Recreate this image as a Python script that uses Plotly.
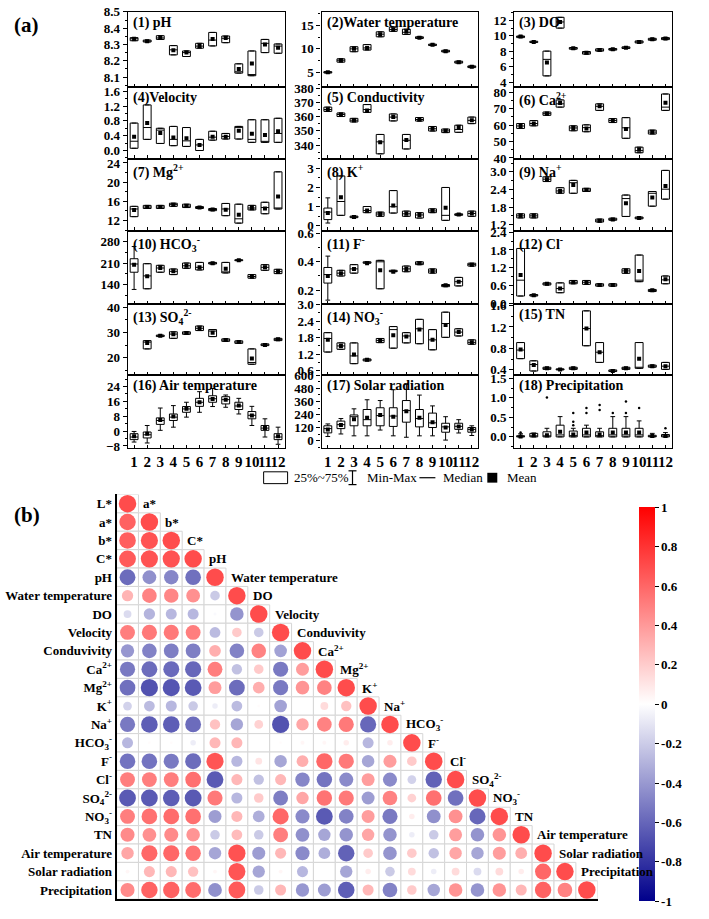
import plotly.graph_objects as go
import math

W, H = 709, 919
MONTHS = list(range(1, 13))

# ---------------- Panel (a) data: q1, median, q3, mean (+ whisker min/max) ----------------
PH_Q1 = [8.323, 8.315, 8.331, 8.236, 8.226, 8.277, 8.291, 8.311, 8.124, 8.108, 8.250, 8.246]
PH_MED = [8.335, 8.320, 8.340, 8.267, 8.250, 8.290, 8.327, 8.338, 8.132, 8.115, 8.307, 8.290]
PH_Q3 = [8.342, 8.327, 8.354, 8.293, 8.260, 8.307, 8.374, 8.352, 8.181, 8.260, 8.331, 8.303]
PH_MEAN = [8.335, 8.320, 8.340, 8.265, 8.250, 8.290, 8.333, 8.340, 8.149, 8.183, 8.300, 8.280]

WT_Q1 = [4.9, 7.2, 9.4, 9.75, 12.55, 13.7, 13.05, 12.2, 10.7, 9.35, 7.0, 6.05]
WT_MED = [5.05, 7.6, 10.0, 10.2, 13.1, 14.1, 13.5, 12.35, 10.85, 9.5, 7.2, 6.25]
WT_Q3 = [5.2, 7.9, 10.45, 10.9, 13.6, 14.6, 14.15, 12.55, 11.0, 9.7, 7.4, 6.4]
WT_MEAN = [5.05, 7.6, 10.0, 10.2, 13.1, 14.1, 13.6, 12.35, 10.85, 9.5, 7.2, 6.25]

DO_Q1 = [9.77, 9.13, 4.81, 11.0, 8.27, 7.63, 8.02, 8.15, 8.36, 9.08, 9.43, 9.51]
DO_MED = [9.9, 9.2, 6.95, 11.8, 8.4, 7.8, 8.15, 8.25, 8.45, 9.2, 9.55, 9.65]
DO_Q3 = [9.98, 9.30, 8.02, 12.4, 8.49, 7.97, 8.32, 8.36, 8.57, 9.34, 9.68, 9.77]
DO_MEAN = [9.9, 9.2, 6.56, 11.8, 8.4, 7.8, 8.15, 8.25, 8.45, 9.2, 9.55, 9.65]

VEL_Q1 = [0.06, 0.30, 0.19, 0.13, 0.11, 0.00, 0.28, 0.31, 0.31, 0.22, 0.22, 0.22]
VEL_MED = [0.25, 0.62, 0.55, 0.30, 0.26, 0.15, 0.36, 0.38, 0.63, 0.30, 0.24, 0.46]
VEL_Q3 = [0.74, 1.23, 0.60, 0.65, 0.62, 0.30, 0.52, 0.46, 0.65, 0.83, 0.83, 0.87]
VEL_MEAN = [0.37, 0.74, 0.47, 0.35, 0.33, 0.15, 0.37, 0.37, 0.53, 0.45, 0.42, 0.52]

CON_Q1 = [363.7, 360.1, 356.3, 363.0, 333.9, 357.0, 337.3, 356.9, 349.9, 348.8, 349.0, 355.1]
CON_MED = [365.0, 361.5, 357.5, 365.0, 342.3, 359.7, 343.4, 358.0, 351.5, 350.0, 351.0, 357.4]
CON_Q3 = [366.7, 362.6, 358.8, 368.5, 347.5, 361.9, 347.5, 359.4, 353.1, 351.3, 354.0, 359.7]
CON_MEAN = [365.0, 361.5, 357.5, 364.4, 342.0, 359.7, 343.6, 358.0, 351.5, 350.0, 352.5, 357.4]

CA_Q1 = [58.0, 59.6, 66.0, 71.0, 56.6, 56.0, 69.0, 61.6, 52.0, 43.2, 54.6, 69.0]
CA_MED = [59.5, 61.0, 67.0, 73.0, 58.3, 58.5, 71.5, 62.8, 58.4, 44.5, 55.8, 71.0]
CA_Q3 = [61.0, 62.8, 68.0, 75.4, 59.6, 60.2, 73.0, 64.0, 64.6, 46.6, 57.0, 79.0]
CA_MEAN = [59.5, 61.0, 67.0, 73.5, 58.3, 58.0, 71.5, 62.8, 57.6, 45.0, 55.8, 73.6]

MG_Q1 = [12.8, 14.5, 14.5, 14.95, 14.7, 14.5, 14.05, 13.0, 11.45, 14.2, 13.4, 14.4]
MG_MED = [14.4, 14.8, 14.8, 15.3, 15.0, 14.7, 14.3, 14.4, 12.35, 14.6, 14.7, 14.5]
MG_Q3 = [14.95, 15.15, 15.15, 15.6, 15.4, 14.9, 14.5, 15.55, 15.4, 15.15, 15.8, 22.15]
MG_MEAN = [14.2, 14.8, 14.8, 15.3, 15.0, 14.7, 14.3, 14.26, 13.2, 14.6, 14.5, 17.0]

K_Q1 = [0.33, 0.55, 0.43, 0.69, 0.50, 0.67, 0.50, 0.41, 0.69, 0.29, 0.55, 0.50]
K_MED = [0.72, 1.27, 0.47, 0.80, 0.62, 1.00, 0.63, 0.57, 0.78, 0.55, 0.60, 0.65]
K_Q3 = [0.93, 2.60, 0.51, 1.01, 0.72, 1.84, 0.77, 0.69, 0.89, 2.00, 0.63, 0.77]
K_MEAN = [0.67, 1.49, 0.47, 0.80, 0.62, 1.06, 0.63, 0.57, 0.78, 0.94, 0.60, 0.65]
K_MIN = [0.15, None, None, None, None, None, None, None, None, None, None, None]
K_MAX = [1.46, None, None, None, None, None, None, None, None, None, None, None]

NA_Q1 = [1.43, 1.43, 2.67, 2.27, 2.27, 2.33, 1.29, 1.35, 1.48, 1.40, 1.83, 2.07]
NA_MED = [1.50, 1.50, 2.75, 2.35, 2.63, 2.38, 1.33, 1.38, 2.09, 1.43, 2.27, 2.41]
NA_Q3 = [1.57, 1.57, 2.83, 2.46, 2.71, 2.44, 1.39, 1.42, 2.21, 1.46, 2.33, 3.05]
NA_MEAN = [1.50, 1.50, 2.75, 2.35, 2.55, 2.38, 1.33, 1.38, 1.93, 1.43, 2.13, 2.52]

HC_Q1 = [180, 126, 180, 172.3, 192.8, 187.4, 206.8, 177.7, 217.5, 160.5, 186.3, 175.5]
HC_MED = [206.8, 168, 193.8, 183, 201, 196, 209.5, 181, 219, 166, 196, 182]
HC_Q3 = [224, 207.8, 202.5, 190.6, 210, 212, 212, 212, 220.8, 172.3, 204.6, 189.5]
HC_MEAN = [204.6, 167, 193.8, 183, 201, 196, 209.5, 191.7, 219, 166, 196, 182]
HC_MIN = [123.8, None, None, None, None, None, None, None, None, None, None, None]
HC_MAX = [263.8, None, None, None, None, None, None, None, None, None, None, None]

F_Q1 = [0.25, 0.30, 0.32, 0.39, 0.21, 0.33, 0.33, 0.38, 0.32, 0.225, 0.23, 0.37]
F_MED = [0.31, 0.32, 0.35, 0.39, 0.40, 0.33, 0.35, 0.39, 0.335, 0.235, 0.26, 0.38]
F_Q3 = [0.36, 0.34, 0.38, 0.40, 0.41, 0.34, 0.37, 0.40, 0.35, 0.24, 0.29, 0.39]
F_MEAN = [0.30, 0.32, 0.35, 0.39, 0.34, 0.33, 0.35, 0.39, 0.335, 0.235, 0.26, 0.38]
F_MIN = [0.13, None, None, None, None, None, None, None, None, None, None, None]
F_MAX = [0.44, None, None, None, None, None, None, None, None, None, None, None]

CL_Q1 = [0.26, 0.26, 0.63, 0.37, 0.67, 0.65, 0.59, 0.59, 1.02, 0.74, 0.41, 0.67]
CL_MED = [0.79, 0.29, 0.67, 0.51, 0.72, 0.72, 0.63, 0.63, 1.10, 0.79, 0.45, 0.80]
CL_Q3 = [1.85, 0.31, 0.70, 0.70, 0.78, 0.78, 0.67, 0.67, 1.17, 1.63, 0.48, 0.93]
CL_MEAN = [0.96, 0.29, 0.67, 0.51, 0.72, 0.72, 0.63, 0.63, 1.10, 1.10, 0.45, 0.82]

SO_Q1 = [None, 23.5, 28.4, 27.7, 29.3, 30.8, 28.4, 26.5, 25.7, 17.4, 24.8, 26.8]
SO_MED = [None, 26.2, 28.7, 29.4, 29.8, 31.7, 30.6, 27.0, 26.2, 18.1, 25.1, 27.3]
SO_Q3 = [None, 26.8, 29.0, 30.3, 30.3, 32.6, 31.2, 27.5, 26.7, 23.5, 25.5, 27.7]
SO_MEAN = [None, 25.8, 28.7, 29.3, 29.8, 31.7, 29.9, 27.0, 26.2, 19.7, 25.1, 27.3]

NO_Q1 = [1.28, 1.38, 0.86, 0.96, 1.62, 1.42, 1.61, 1.58, 1.36, 1.81, 1.86, 1.56]
NO_MED = [1.77, 1.50, 1.14, 1.00, 1.70, 2.09, 1.86, 2.12, 1.72, 2.31, 2.00, 1.63]
NO_Q3 = [1.98, 1.61, 1.61, 1.03, 1.77, 2.20, 1.98, 2.46, 2.09, 2.72, 2.12, 1.72]
NO_MEAN = [1.72, 1.50, 1.19, 1.00, 1.70, 1.89, 1.84, 2.09, 1.72, 2.26, 2.00, 1.63]

TN_Q1 = [0.61, 0.38, 0.41, 0.40, 0.41, 0.85, 0.54, 0.37, 0.41, 0.43, 0.45, 0.41]
TN_MED = [0.77, 0.50, 0.43, 0.41, 0.43, 1.17, 0.73, 0.38, 0.43, 0.45, 0.47, 0.47]
TN_Q3 = [0.91, 0.57, 0.45, 0.42, 0.45, 1.50, 0.91, 0.40, 0.45, 0.91, 0.49, 0.54]
TN_MEAN = [0.78, 0.49, 0.43, 0.41, 0.43, 1.17, 0.73, 0.38, 0.43, 0.61, 0.47, 0.47]

AT_MIN = [-5.9, -6.4, 0.4, 2.1, 7.5, 10.1, 13.2, 12.8, 9.2, 3.0, -3.2, -7.1]
AT_Q1 = [-4.6, -3.7, 3.6, 5.7, 10.1, 13.3, 15.5, 14.6, 11.6, 6.6, 0.4, -4.6]
AT_MED = [-3.2, -2.0, 5.7, 7.5, 11.9, 15.5, 17.4, 16.9, 13.5, 8.5, 1.6, -3.2]
AT_Q3 = [-1.4, -0.5, 7.1, 9.2, 13.2, 17.6, 19.0, 18.5, 15.5, 10.5, 3.0, -1.4]
AT_MAX = [-0.2, 3.0, 12.4, 13.7, 15.5, 21.2, 22.9, 19.4, 17.6, 13.3, 6.6, 2.1]
AT_MEAN = [-2.8, -1.4, 6.0, 7.8, 12.0, 15.5, 17.2, 16.9, 13.7, 8.4, 1.6, -2.8]

SR_MIN = [40, 63, 46, 46, 99, 46, 33, 46, 46, 7, 72, 49]
SR_Q1 = [73, 112, 138, 138, 138, 132, 171, 128, 122, 79, 105, 79]
SR_MED = [112, 148, 221, 194, 231, 227, 277, 204, 165, 128, 133, 105]
SR_Q3 = [138, 181, 237, 287, 303, 303, 369, 287, 254, 161, 161, 122]
SR_MAX = [155, 204, 293, 376, 369, 468, 517, 419, 320, 221, 194, 138]
SR_MEAN = [105, 145, 198, 211, 237, 221, 270, 211, 171, 122, 132, 105]

PR_MIN = [0, 0, 0, 0, 0, 0, 0, 0, 0, 0, 0, 0]
PR_Q1 = [0, 0, 0, 0, 0, 0, 0, 0, 0, 0, 0, 0]
PR_MED = [0.0, 0.02, 0.02, 0.05, 0.03, 0.05, 0.03, 0.05, 0.05, 0.05, 0.0, 0.0]
PR_Q3 = [0.03, 0.09, 0.13, 0.30, 0.15, 0.22, 0.13, 0.22, 0.22, 0.22, 0.04, 0.06]
PR_MAX = [0.08, 0.10, 0.22, 0.52, 0.22, 0.30, 0.22, 0.52, 0.52, 0.41, 0.09, 0.11]
PR_MEAN = [0.01, 0.04, 0.04, 0.13, 0.06, 0.11, 0.06, 0.11, 0.11, 0.11, 0.02, 0.02]
PR_OUT_X = [1, 3, 5, 5, 5, 6, 6, 7, 7, 8, 9, 9, 10, 12]
PR_OUT_Y = [0.11, 1.01, 0.61, 0.39, 0.30, 0.74, 0.61, 0.82, 0.69, 0.61, 0.91, 0.61, 0.74, 0.22]

LEGEND_LABELS = ["25%~75%", "Min-Max", "Median", "Mean"]

# ---------------- Panel (b) data: correlation matrix (lower triangle rows) ----------------
VARS = ["L*", "a*", "b*", "C*", "pH", "Water temperature", "DO", "Velocity", "Conduvivity",
        "Ca<sup>2+</sup>", "Mg<sup>2+</sup>", "K<sup>+</sup>", "Na<sup>+</sup>",
        "HCO<sub>3</sub><sup>-</sup>", "F<sup>-</sup>", "Cl<sup>-</sup>",
        "SO<sub>4</sub><sup>2-</sup>", "NO<sub>3</sub><sup>-</sup>", "TN",
        "Air temperature", "Solar radiation", "Precipitation"]
R01 = [1]
R02 = [0.88, 1]
R03 = [0.90, 0.96, 1]
R04 = [0.92, 0.96, 0.97, 1]
R05 = [-0.82, -0.62, -0.68, -0.80, 1]
R06 = [0.42, 0.70, 0.68, 0.62, -0.30, 1]
R07 = [-0.20, -0.42, -0.40, -0.40, -0.03, -0.60, 1]
R08 = [0.72, 0.75, 0.75, 0.72, -0.38, 0.30, -0.30, 1]
R09 = [-0.58, -0.70, -0.72, -0.72, 0.45, -0.70, 0.70, -0.52, 1]
R10 = [-0.75, -0.82, -0.83, -0.85, 0.72, -0.35, 0.30, -0.75, 0.55, 1]
R11 = [-0.80, -0.97, -0.95, -0.92, 0.55, -0.82, 0.45, -0.75, 0.60, 0.70, 1]
R12 = [-0.25, -0.38, -0.40, -0.30, -0.10, -0.38, 0.02, -0.52, 0.00, 0.20, 0.35, 1]
R13 = [-0.75, -0.90, -0.90, -0.82, 0.35, -0.50, 0.25, -0.97, 0.50, 0.70, 0.75, -0.85, 1]
R14 = [-0.40, 0.02, 0.02, -0.10, 0.40, 0.40, 0.00, 0.02, 0.05, 0.05, 0.10, -0.40, 0.10, 1]
R15 = [-0.78, -0.78, -0.75, -0.82, 0.95, -0.40, 0.15, -0.50, 0.45, 0.85, 0.75, -0.50, 0.55, 0.30, 1]
R16 = [0.72, 0.72, 0.72, 0.80, -0.92, 0.40, -0.35, 0.40, -0.68, -0.78, -0.65, 0.55, -0.65, -0.25, -0.88, 1]
R17 = [-0.92, -0.92, -0.90, -0.93, 0.75, -0.40, 0.30, -0.72, 0.50, 0.78, 0.75, -0.55, 0.70, 0.25, 0.80, -0.80, 1]
R18 = [0.72, 0.80, 0.82, 0.80, -0.55, 0.40, -0.45, 0.85, -0.65, -0.92, -0.70, 0.55, -0.75, 0.10, -0.62, 0.62, -0.85, 1]
R19 = [0.65, 0.62, 0.65, 0.60, -0.30, 0.38, -0.30, 0.72, -0.62, -0.50, -0.60, 0.50, -0.60, -0.10, -0.30, 0.55, -0.60, 0.60, 1]
R20 = [0.50, 0.85, 0.85, 0.78, -0.50, 0.97, -0.55, 0.40, -0.65, -0.45, -0.88, 0.30, -0.60, 0.30, -0.35, 0.50, -0.50, 0.55, 0.45, 1]
R21 = [0.05, 0.40, 0.40, 0.35, 0.05, 0.95, -0.50, 0.05, -0.40, 0.00, -0.50, 0.10, -0.30, 0.20, -0.10, 0.20, -0.20, 0.20, 0.10, 0.85, 1]
R22 = [0.65, 0.88, 0.88, 0.82, -0.62, 0.92, -0.30, 0.40, -0.58, -0.55, -0.90, 0.40, -0.70, 0.30, -0.50, 0.60, -0.60, 0.60, 0.40, 0.88, 0.70, 1]
CORR_ROWS = [R01, R02, R03, R04, R05, R06, R07, R08, R09, R10, R11, R12, R13, R14, R15,
             R16, R17, R18, R19, R20, R21, R22]

CB_TICKS = [1, 0.8, 0.6, 0.4, 0.2, 0, -0.2, -0.4, -0.6, -0.8, -1]

# ---------------- layout helpers ----------------
SERIF = "Liberation Serif"
COL_X = [(128, 285), (322, 479), (515, 673)]
ROW_Y = [(5, 81), (81, 154), (154, 227), (227, 302), (302, 374), (374, 448)]


def dx(a, b):
    return [a / W, b / W]


def dy(a, b):
    return [1 - b / H, 1 - a / H]


def px(x):
    return x / W


def py(y):
    return 1 - y / H


PANELS = [
    ("(1) pH", PH_Q1, PH_MED, PH_Q3, PH_MEAN, None, None, [8.04, 8.5], 0.1, 0.0, ".1f"),
    ("(2)Water temperature", WT_Q1, WT_MED, WT_Q3, WT_MEAN, None, None, [2, 17.8], 5, 0, "d"),
    ("(3) DO", DO_Q1, DO_MED, DO_Q3, DO_MEAN, None, None, [3.4, 13.1], 2, 0, "d"),
    ("(4)Velocity", VEL_Q1, VEL_MED, VEL_Q3, VEL_MEAN, None, None, [-0.22, 1.72], 0.4, 0, ".1f"),
    ("(5) Conductivity", CON_Q1, CON_MED, CON_Q3, CON_MEAN, None, None, [330.5, 381], 10, 0, "d"),
    ("(6) Ca<sup>2+</sup>", CA_Q1, CA_MED, CA_Q3, CA_MEAN, None, None, [39.6, 83.4], 10, 0, "d"),
    ("(7) Mg<sup>2+</sup>", MG_Q1, MG_MED, MG_Q3, MG_MEAN, None, None, [9.9, 24.9], 4, 0, "d"),
    ("(8) K<sup>+</sup>", K_Q1, K_MED, K_Q3, K_MEAN, K_MIN, K_MAX, [-0.24, 3.5], 1, 0, "d"),
    ("(9) Na<sup>+</sup>", NA_Q1, NA_MED, NA_Q3, NA_MEAN, None, None, [1.0, 3.45], 0.6, 0, ".1f"),
    ("(10) HCO<sub>3</sub><sup>-</sup>", HC_Q1, HC_MED, HC_Q3, HC_MEAN, HC_MIN, HC_MAX, [75, 316], 70, 0, "d"),
    ("(11) F<sup>-</sup>", F_Q1, F_MED, F_Q3, F_MEAN, F_MIN, F_MAX, [0.1, 0.62], 0.2, 0, ".1f"),
    ("(12) Cl<sup>-</sup>", CL_Q1, CL_MED, CL_Q3, CL_MEAN, None, None, [-0.02, 2.45], 0.6, 0, ".1f"),
    ("(13) SO<sub>4</sub><sup>2-</sup>", SO_Q1, SO_MED, SO_Q3, SO_MEAN, None, None, [13, 41.2], 10, 0, "d"),
    ("(14) NO<sub>3</sub><sup>-</sup>", NO_Q1, NO_MED, NO_Q3, NO_MEAN, None, None, [0.44, 3.0], 0.6, 0, ".1f"),
    ("(15) TN", TN_Q1, TN_MED, TN_Q3, TN_MEAN, None, None, [0.3, 1.62], 0.4, 0, ".1f"),
    ("(16) Air temperature", AT_Q1, AT_MED, AT_Q3, AT_MEAN, AT_MIN, AT_MAX, [-9.2, 30], 8, 0, "d"),
    ("(17) Solar radiation", SR_Q1, SR_MED, SR_Q3, SR_MEAN, SR_MIN, SR_MAX, [-67, 600], 120, 0, "d"),
    ("(18) Precipitation", PR_Q1, PR_MED, PR_Q3, PR_MEAN, PR_MIN, PR_MAX, [-0.29, 1.58], 0.5, 0, ".1f"),
]

fig = go.Figure()
layout = {}
annotations = []
shapes = []
tickfont = dict(family=SERIF, size=13, color="black", weight="bold")

for idx, (title, q1, med, q3, mean, lo, hi, yr, dt, t0, fmt) in enumerate(PANELS):
    k = idx + 1
    r, c = divmod(idx, 3)
    xa, ya = f"x{k}", f"y{k}"
    keep = [i for i in range(12) if q1[i] is not None]
    xs = [MONTHS[i] for i in keep]
    lof = [(lo[i] if (lo and lo[i] is not None) else q1[i]) for i in keep]
    hif = [(hi[i] if (hi and hi[i] is not None) else q3[i]) for i in keep]
    fig.add_trace(go.Box(
        x=xs, q1=[q1[i] for i in keep], median=[med[i] for i in keep], q3=[q3[i] for i in keep],
        lowerfence=lof, upperfence=hif, width=0.6, whiskerwidth=0.6,
        fillcolor="white", line=dict(color="black", width=1), boxpoints=False,
        xaxis=xa, yaxis=ya, showlegend=False, hoverinfo="skip"))
    fig.add_trace(go.Scatter(
        x=xs, y=[mean[i] for i in keep], mode="markers",
        marker=dict(symbol="square", size=4, color="black"),
        xaxis=xa, yaxis=ya, showlegend=False, hoverinfo="skip"))
    if k == 18:
        fig.add_trace(go.Scatter(
            x=PR_OUT_X, y=PR_OUT_Y, mode="markers",
            marker=dict(symbol="circle", size=2.5, color="black"),
            xaxis=xa, yaxis=ya, showlegend=False, hoverinfo="skip"))
    x0, x1 = COL_X[c]
    y0, y1 = ROW_Y[r]
    xkey = "xaxis" if k == 1 else f"xaxis{k}"
    ykey = "yaxis" if k == 1 else f"yaxis{k}"
    layout[xkey] = dict(
        domain=dx(x0, x1), anchor=ya, range=[0.52, 12.5], tickmode="array", tickvals=MONTHS,
        ticktext=[str(m) for m in MONTHS], showticklabels=(r == 5), ticks="inside", ticklen=3,
        tickangle=0, tickwidth=1, tickcolor="black", showline=True, mirror=True,
        linecolor="black", linewidth=1.4, showgrid=False, zeroline=False,
        tickfont=dict(family=SERIF, size=15, color="black", weight="bold"))
    layout[ykey] = dict(
        domain=dy(y0, y1), anchor=xa, range=yr, dtick=dt, tick0=t0, tickformat=fmt,
        ticks="outside", ticklen=4, tickwidth=1, tickcolor="black",
        minor=dict(dtick=dt / 2, tick0=t0, ticks="outside", ticklen=2, tickcolor="black"),
        showline=True, mirror=True, linecolor="black", linewidth=1.4, showgrid=False,
        zeroline=False, tickfont=tickfont)
    annotations.append(dict(
        xref="paper", yref="paper", x=(x0 + 3) / W, y=1 - (y0 + 1) / H, xanchor="left",
        yanchor="top", text=f"<b>{title}</b>", showarrow=False,
        font=dict(family=SERIF, size=14, color="black")))

# ---------------- key of panel (a) ----------------
LY = 478
legfont = dict(family=SERIF, size=13, color="black")
shapes.append(dict(type="rect", xref="paper", yref="paper", x0=px(264), x1=px(288),
                   y0=py(484), y1=py(472), line=dict(color="black", width=1), fillcolor="white"))
shapes.append(dict(type="line", xref="paper", yref="paper", x0=px(353), x1=px(353),
                   y0=py(485), y1=py(471), line=dict(color="black", width=1.2)))
for yy in (471, 485):
    shapes.append(dict(type="line", xref="paper", yref="paper", x0=px(349), x1=px(357),
                       y0=py(yy), y1=py(yy), line=dict(color="black", width=1.2)))
shapes.append(dict(type="line", xref="paper", yref="paper", x0=px(420), x1=px(436),
                   y0=py(LY), y1=py(LY), line=dict(color="black", width=1.2)))
shapes.append(dict(type="rect", xref="paper", yref="paper", x0=px(488), x1=px(498),
                   y0=py(483), y1=py(473), line=dict(color="black", width=0), fillcolor="black"))
for lx, lab in zip([292, 366, 442, 506], LEGEND_LABELS):
    annotations.append(dict(xref="paper", yref="paper", x=px(lx), y=py(LY), xanchor="left",
                            yanchor="middle", text=lab, showarrow=False, font=legfont))

# ---------------- Panel (b): correlation circles ----------------
N = len(VARS)
cx, cy, cr = [], [], []
for i, row in enumerate(CORR_ROWS):
    for j, v in enumerate(row):
        cx.append(j + 1)
        cy.append(i + 1)
        cr.append(v)

BX0, BX1 = 116.75, 598.6
BY0, BY1 = 495.0, 906.0
for i in range(N):
    for j in range(i + 1):
        shapes.append(dict(type="rect", xref="x19", yref="y19", x0=j + 0.5, x1=j + 1.5,
                           y0=i + 0.5, y1=i + 1.5, line=dict(color="#d6d6d6", width=1),
                           fillcolor="white", layer="below"))

colorscale = [[0.0, "#00008B"], [0.5, "#FFFFFF"], [1.0, "#FF0000"]]
fig.add_trace(go.Scatter(
    x=cx, y=cy, mode="markers", xaxis="x19", yaxis="y19", showlegend=False, hoverinfo="skip",
    marker=dict(size=[17.5 * math.sqrt(abs(v)) for v in cr], color=cr, colorscale=colorscale,
                cmin=-1, cmax=1, line=dict(width=0),
                colorbar=dict(x=640 / W, xanchor="left", y=1 - 708 / H, yanchor="middle",
                              len=394, lenmode="pixels", thickness=16, thicknessmode="pixels",
                              ypad=0, xpad=0,
                              tickvals=CB_TICKS, ticktext=[f"{t:g}" for t in CB_TICKS],
                              ticks="outside", ticklen=4, tickcolor="black", outlinewidth=0,
                              tickfont=dict(family=SERIF, size=13, color="black", weight="bold")))))

for i in range(N - 1):
    annotations.append(dict(xref="x19", yref="y19", x=i + 1.5, y=i + 1, xanchor="left",
                            yanchor="middle", xshift=3, text=f"<b>{VARS[i + 1]}</b>",
                            showarrow=False, font=dict(family=SERIF, size=13, color="black")))

layout["xaxis19"] = dict(domain=dx(BX0, BX1), anchor="y19", range=[0.5, N + 0.5],
                         showticklabels=False, ticks="", showgrid=False, zeroline=False,
                         showline=True, linecolor="black", linewidth=2)
layout["yaxis19"] = dict(domain=dy(BY0, BY1), anchor="x19", range=[N + 0.5, 0.5],
                         tickmode="array", tickvals=list(range(1, N + 1)),
                         ticktext=[f"<b>{v}</b>" for v in VARS], ticks="", showgrid=False,
                         zeroline=False, showline=True, linecolor="black", linewidth=2,
                         tickfont=dict(family=SERIF, size=13, color="black"))

annotations.append(dict(xref="paper", yref="paper", x=12 / W, y=1 - 4 / H, xanchor="left",
                        yanchor="top", text="<b>(a)</b>", showarrow=False,
                        font=dict(family=SERIF, size=21, color="black")))
annotations.append(dict(xref="paper", yref="paper", x=12 / W, y=1 - 502 / H, xanchor="left",
                        yanchor="top", text="<b>(b)</b>", showarrow=False,
                        font=dict(family=SERIF, size=21, color="black")))

fig.update_layout(
    width=W, height=H, margin=dict(l=0, r=0, t=0, b=0), paper_bgcolor="white",
    plot_bgcolor="white", annotations=annotations, shapes=shapes, showlegend=False,
    font=dict(family=SERIF, color="black"),
    **layout)

fig.write_html("out.html")
